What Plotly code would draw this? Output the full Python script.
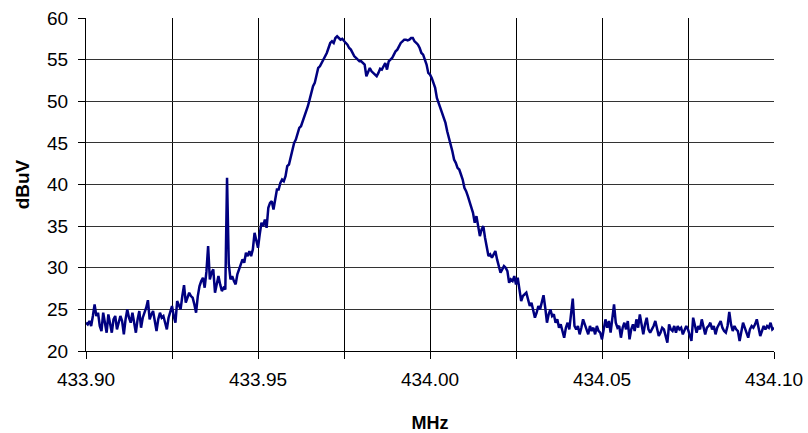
import plotly.graph_objects as go

f_start = 433.90
f_step = 0.0005

dbuv = [
    23.4, 23.2, 23.6, 23.0, 24.2, 25.6, 24.2, 24.6, 23.0, 22.4,
    24.6, 23.6, 22.2, 24.4, 23.2, 22.2, 23.8, 24.2, 22.6, 23.4,
    24.2, 23.6, 22.0, 23.8, 25.0, 24.0, 23.4, 24.6, 23.6, 22.2,
    23.8, 24.8, 22.8, 24.0, 24.6, 25.2, 26.1, 23.8, 24.4, 24.8,
    23.6, 22.4, 23.8, 24.6, 24.0, 24.2, 23.4, 22.6, 24.0, 24.8,
    25.4, 24.2, 23.4, 26.0, 25.4, 25.0, 26.6, 27.9, 25.8, 26.4,
    27.0, 26.6, 26.4, 25.6, 24.6, 26.6, 27.8, 28.4, 28.8, 27.6,
    29.5, 32.6, 28.6, 29.4, 29.8, 27.0, 28.2, 29.0, 28.0, 27.2,
    27.6, 27.4, 40.8, 30.5, 28.6, 29.0, 28.4, 28.0, 29.2, 29.8,
    30.2, 31.0, 30.6, 31.8, 31.4, 32.0, 31.4, 32.2, 34.2, 33.4,
    32.4, 34.0, 35.4, 35.0, 35.8, 34.8, 37.2, 37.8, 38.0, 37.0,
    38.4, 39.4, 39.4, 40.2, 40.6, 40.4, 41.0, 42.2, 42.4, 43.4,
    44.4, 45.0, 45.4, 46.0, 46.8, 47.0, 47.6, 48.0, 48.8, 49.4,
    50.2, 51.2, 51.8, 52.2, 53.2, 54.0, 54.2, 54.6, 55.0, 55.4,
    55.8, 56.4, 57.0, 57.2, 57.0, 57.6, 57.8, 57.6, 57.4, 57.5,
    57.2, 57.0, 56.8, 56.4, 56.2, 55.8, 55.4, 55.2, 55.0, 54.8,
    54.8, 54.6, 54.4, 53.0, 53.6, 54.0, 53.6, 53.4, 53.2, 53.0,
    53.4, 53.9, 53.8, 54.2, 54.6, 53.8, 54.8, 55.0, 55.2, 55.6,
    56.0, 56.2, 56.6, 57.0, 57.2, 57.4, 57.4, 57.3, 57.4, 57.6,
    57.6, 57.2, 57.0, 56.8, 56.4, 55.8, 55.6, 55.0, 54.4, 53.4,
    53.2, 52.8, 52.2, 51.6, 50.4, 49.8, 49.4, 48.6, 48.0, 47.4,
    46.4, 45.6, 45.0, 44.0, 43.0, 42.6, 42.0, 41.8, 41.2, 40.6,
    39.6, 39.2, 38.6, 38.0, 37.4, 36.6, 35.4, 36.2, 35.0, 33.8,
    34.6, 35.0, 33.6, 32.2, 31.4, 31.6, 31.2, 31.6, 32.0, 31.0,
    30.0, 29.4, 29.8, 30.2, 30.0, 29.6, 28.2, 28.6, 28.4, 29.0,
    28.0, 28.8, 27.4, 26.0, 26.6, 26.8, 27.0, 26.2, 25.4, 25.8,
    25.0, 24.0, 24.6, 25.4, 25.0, 25.8, 26.7, 25.2, 23.4, 24.4,
    25.0, 24.2, 24.4, 23.4, 23.8, 22.8, 23.2, 22.4, 21.6, 22.8,
    23.4, 22.6, 24.6, 26.3, 23.0, 22.6, 23.0, 22.0, 22.8, 23.8,
    23.2, 22.6, 22.0, 23.0, 22.4, 22.8, 22.0, 23.0, 22.4, 22.2,
    21.4, 22.6, 23.8, 22.8, 23.6, 22.2, 24.0, 25.6, 23.4, 22.8,
    23.0, 21.6, 22.8, 23.4, 22.6, 23.6, 21.4, 22.6, 23.2, 22.4,
    23.8, 22.8, 24.4, 23.4, 22.0, 23.2, 24.0, 22.6, 22.2, 22.6,
    23.0, 23.6, 22.8, 21.8, 22.2, 22.8, 22.6, 21.6, 21.0, 23.2,
    22.6, 22.4, 23.0, 22.2, 23.0, 22.6, 22.8, 22.0, 22.6, 23.0,
    22.6, 22.0, 21.2, 24.0, 23.0, 22.2, 23.0, 22.6, 23.8, 22.8,
    22.0, 22.8, 23.0, 23.4, 22.6, 23.0, 22.0, 22.8, 23.2, 23.6,
    22.8, 22.4, 22.2, 23.0, 24.7, 23.2, 22.4, 23.0, 22.6, 22.4,
    21.2, 22.4, 23.4, 22.8, 22.2, 21.6, 22.6, 23.0, 22.8, 23.2,
    23.8, 22.6, 21.8, 22.4, 23.0, 22.6, 23.0, 22.8, 23.4, 22.6,
    22.8,
]
mhz = [round(f_start + i * f_step, 4) for i in range(len(dbuv))]

x_range = [433.90, 434.10]
y_range = [20, 60]
x_ticks = [433.90, 433.95, 434.00, 434.05, 434.10]
y_ticks = [20, 25, 30, 35, 40, 45, 50, 55, 60]

fig = go.Figure()
fig.add_trace(go.Scatter(
    x=mhz, y=dbuv, mode="lines",
    line=dict(color="#000080", width=2.5),
    showlegend=False, hoverinfo="skip",
))

font = "Liberation Sans, Arial, sans-serif"
fig.update_layout(
    width=808, height=433,
    margin=dict(l=86, r=34, t=18, b=82),
    paper_bgcolor="white", plot_bgcolor="white",
    font=dict(family=font, size=19, color="black"),
    xaxis=dict(
        range=x_range, tickvals=x_ticks, tickformat=".2f",
        automargin=False,
        showgrid=True, gridcolor="black", gridwidth=1,
        showline=True, linecolor="black", linewidth=1,
        ticks="outside", ticklen=7, tickcolor="black",
        minor=dict(dtick=0.025, tick0=433.90, ticks="outside", ticklen=7,
                   tickcolor="black", showgrid=True, gridcolor="black", gridwidth=1),
        zeroline=False,
        title=dict(text="<b>MHz</b>", font=dict(size=18), standoff=28),
        tickfont=dict(size=19),
        ticklabelstandoff=4,
    ),
    yaxis=dict(
        range=y_range, tickvals=y_ticks,
        automargin=False,
        showgrid=True, gridcolor="#333333", gridwidth=1,
        showline=True, linecolor="black", linewidth=1,
        ticks="outside", ticklen=7, tickcolor="black",
        zeroline=False,
        title=dict(text="<b>dBuV</b>", font=dict(size=19), standoff=12),
        tickfont=dict(size=19),
        ticklabelstandoff=6,
    ),
)

fig.write_html("out.html")
